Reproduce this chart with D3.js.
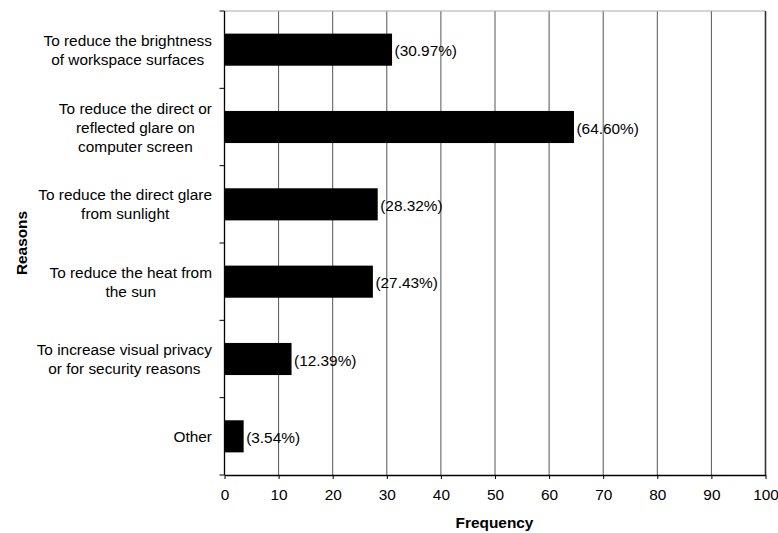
<!DOCTYPE html>
<html><head><meta charset="utf-8">
<script src="https://cdn.jsdelivr.net/npm/d3@7"></script>
<style>body{margin:0;background:#fff}svg{display:block}text{font-family:"Liberation Sans",Arial,sans-serif}</style>
</head><body>
<svg id="chart" width="778" height="533"></svg>
<script>
const categories = [
  ["To reduce the brightness","of workspace surfaces"],
  ["To reduce the direct or","reflected glare on","computer screen"],
  ["To reduce the direct glare","from sunlight"],
  ["To reduce the heat from","the sun"],
  ["To increase visual privacy","or for security reasons"],
  ["Other"]
];
const values = [30.97, 64.60, 28.32, 27.43, 12.39, 3.54];
const labels = ["(30.97%)","(64.60%)","(28.32%)","(27.43%)","(12.39%)","(3.54%)"];
const xTicks = [0,10,20,30,40,50,60,70,80,90,100];
const xTitle = "Frequency";
const yTitle = "Reasons";

const svg = d3.select("#chart");
const m = {left:224.5, top:11, right:765.5, bottom:475};
const x = d3.scaleLinear().domain([0,100]).range([m.left, m.right]);
const y = d3.scaleBand().domain(d3.range(categories.length)).range([m.top, m.bottom]).paddingInner(0.585).paddingOuter(0.2925);
const step = (m.bottom - m.top)/categories.length;
const fs = 15.4;

// gridlines
svg.append("g").selectAll("line").data(xTicks.slice(1, -1)).join("line")
  .attr("x1", d=>x(d)).attr("x2", d=>x(d)).attr("y1", m.top).attr("y2", m.bottom)
  .attr("stroke", "#555").attr("stroke-width", 1);
// top border
svg.append("line").attr("x1", m.left).attr("x2", m.right).attr("y1", m.top).attr("y2", m.top)
  .attr("stroke", "#aaa").attr("stroke-width", 1);
// right border
svg.append("line").attr("x1", m.right).attr("x2", m.right).attr("y1", m.top).attr("y2", m.bottom)
  .attr("stroke", "#333").attr("stroke-width", 1.6);

// bars
svg.append("g").selectAll("rect").data(values).join("rect")
  .attr("x", x(0)).attr("y", (d,i)=>y(i)).attr("width", d=>x(d)-x(0)).attr("height", y.bandwidth())
  .attr("fill", "#000");

// value labels
svg.append("g").selectAll("text").data(values).join("text")
  .attr("x", d=>x(d)+2.5).attr("y", (d,i)=>y(i)+y.bandwidth()/2+1)
  .attr("dominant-baseline","central").attr("font-size", fs).attr("fill","#000")
  .text((d,i)=>labels[i]);

// x axis
const xAxis = svg.append("g").attr("transform", `translate(0,${m.bottom})`)
  .call(d3.axisBottom(x).tickValues(xTicks).tickSize(4).tickPadding(10).tickSizeOuter(0));
xAxis.select(".domain").attr("stroke","#000").attr("stroke-width",1.3);
xAxis.selectAll(".tick line").attr("stroke","#000");
xAxis.selectAll("text").attr("font-size", fs).attr("font-family",'"Liberation Sans",Arial,sans-serif').attr("fill","#000");

// y axis line and ticks at band boundaries
svg.append("line").attr("x1", m.left).attr("x2", m.left).attr("y1", m.top).attr("y2", m.bottom)
  .attr("stroke","#000").attr("stroke-width",1.3);
svg.append("g").selectAll("line").data(d3.range(categories.length+1)).join("line")
  .attr("x1", m.left-5).attr("x2", m.left).attr("y1", i=>m.top+i*step).attr("y2", i=>m.top+i*step)
  .attr("stroke","#000");

// category labels
const lh = 19;
categories.forEach((lines, i) => {
  const cy = y(i) + y.bandwidth()/2;
  const t = svg.append("text").attr("font-size", fs).attr("text-anchor","middle").attr("fill","#000");
  lines.forEach((ln, j) => {
    t.append("tspan").attr("x", 0).attr("y", cy + (j - (lines.length-1)/2)*lh)
      .attr("dominant-baseline","central").text(ln);
  });
  const w = d3.max(t.selectAll("tspan").nodes(), n=>n.getComputedTextLength());
  t.attr("transform", `translate(${m.left - 12.5 - w/2},0)`);
});

// axis titles
svg.append("text").attr("x", (m.left+m.right)/2 - 0.5).attr("y", 528).attr("text-anchor","middle")
  .attr("font-size", fs).attr("font-weight","bold").text(xTitle);
svg.append("text").attr("transform", `translate(21,${(m.top+m.bottom)/2}) rotate(-90)`)
  .attr("text-anchor","middle").attr("dominant-baseline","central")
  .attr("font-size", fs).attr("font-weight","bold").text(yTitle);
</script>
</body></html>
